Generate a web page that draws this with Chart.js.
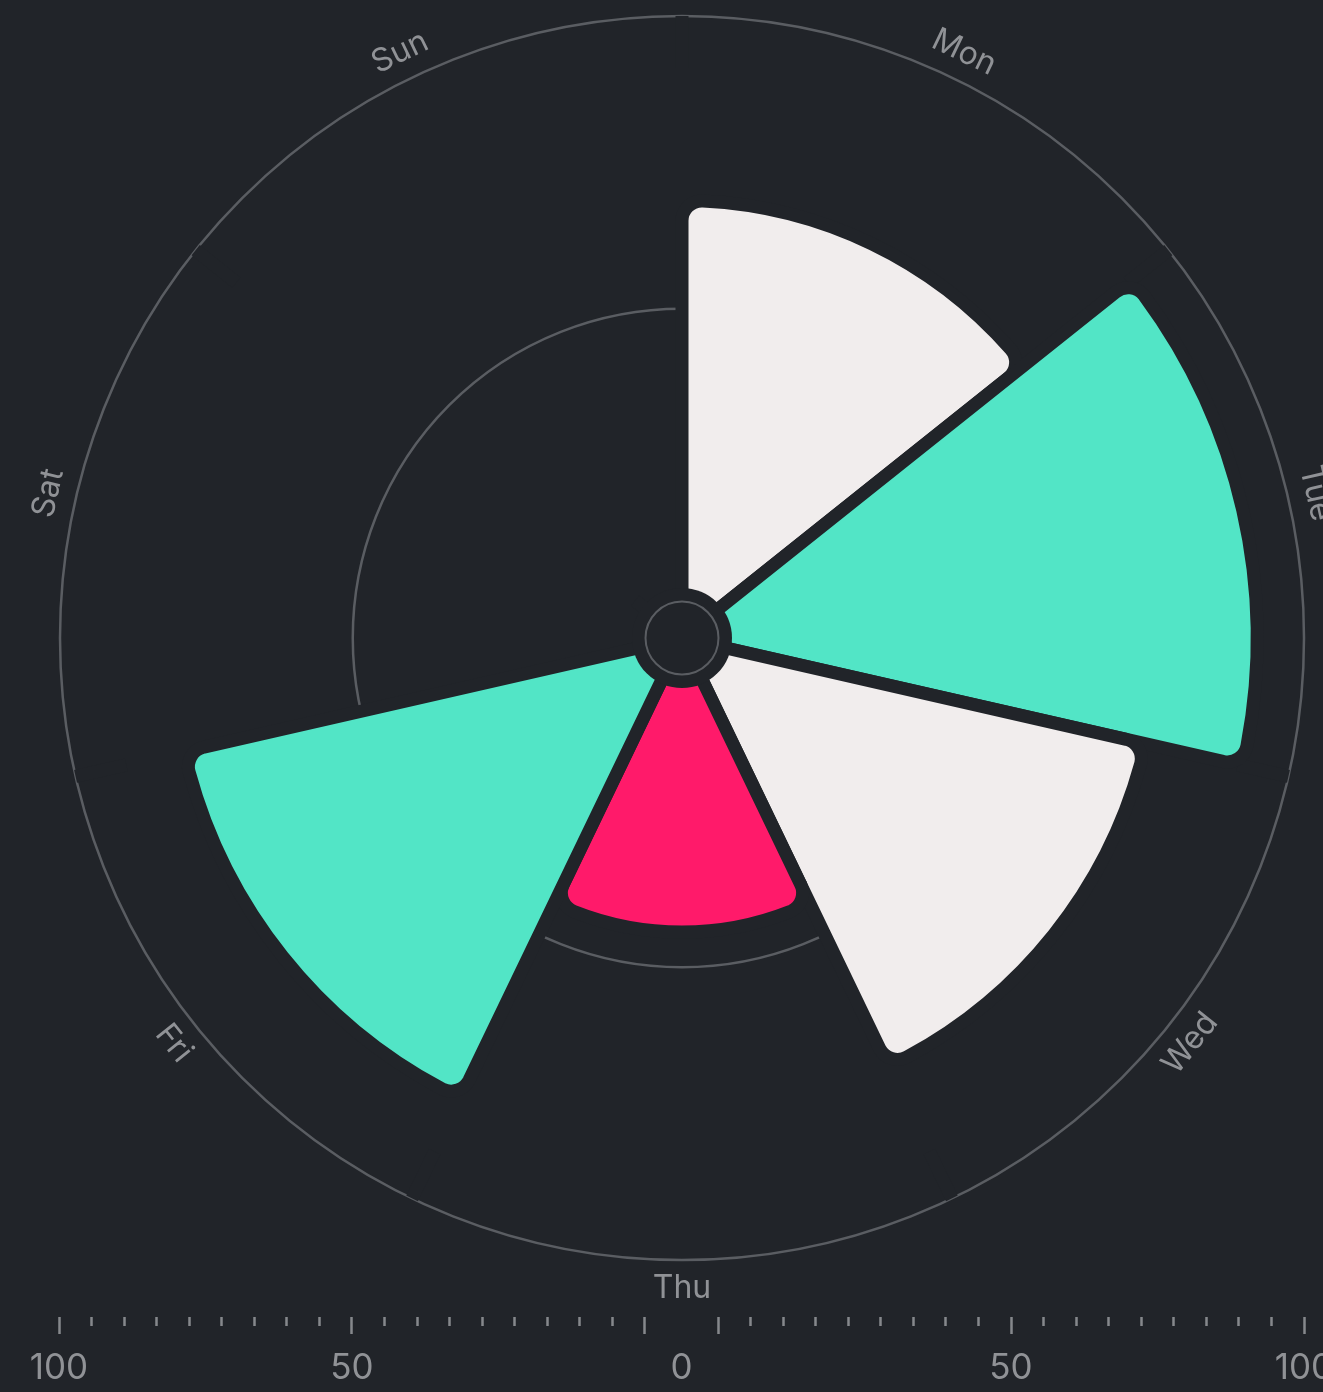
<!DOCTYPE html>
<html>
<head>
<meta charset="utf-8">
<script src="https://cdn.jsdelivr.net/npm/chart.js@4.4.1/dist/chart.umd.min.js"></script>
<style>
  html, body { margin: 0; padding: 0; background: #212429; }
  #chart { display: block; }
</style>
</head>
<body>
<canvas id="chart" width="1323" height="1392"></canvas>
<script>
// ---- data ----
const days = ['Mon', 'Tue', 'Wed', 'Thu', 'Fri', 'Sat', 'Sun'];
const values = [68.5, 92, 75, 44, 81, 0, 0];
const barColors = ['#f1eded', '#52e5c6', '#f1eded', '#ff1a6a', '#52e5c6', '#f1eded', '#f1eded'];

const ringValues = [50, 100];        // grid circles
const axisLabelValues = [50, 100];   // labelled ticks on the bottom ruler ('0' sits in the middle)
const axisStep = 50 / 9;             // ruler tick spacing
const holeValue = -6.23;             // value at the very centre, leaves a hole round 0

// ---- colours ----
const BG = '#212429';
const GRID = '#5a5d62';
const TEXT = '#909296';
const TICK = '#86888c';

// ruler ticks: mirrored both sides of the hole
const span = 100 - holeValue;
const rulerTicks = [{ value: 0 }];
for (let k = 0; k <= 18; k++) {
  const u = k * axisStep - holeValue;
  rulerTicks.push({ value: u }, { value: -u });
}
rulerTicks.sort((a, b) => a.value - b.value);

const rulerValue = (u) => Math.abs(u) + holeValue;
const isMajor = (u) => {
  const k = Math.round(rulerValue(u) / axisStep);
  return k % 9 === 0;
};

// dark hole + small ring in the middle
const centerHole = {
  id: 'centerHole',
  afterDatasetsDraw(chart) {
    const r = chart.scales.r, ctx = chart.ctx;
    ctx.save();
    ctx.fillStyle = BG;
    ctx.beginPath();
    ctx.arc(r.xCenter, r.yCenter, 50, 0, Math.PI * 2);
    ctx.fill();
    ctx.strokeStyle = GRID;
    ctx.lineWidth = 2;
    ctx.beginPath();
    ctx.arc(r.xCenter, r.yCenter, r.getDistanceFromCenterForValue(0), 0, Math.PI * 2);
    ctx.stroke();
    ctx.restore();
  }
};

// day names following the circle
const dayLabels = {
  id: 'dayLabels',
  afterDraw(chart) {
    const r = chart.scales.r, ctx = chart.ctx;
    ctx.save();
    ctx.font = '32px Inter';
    ctx.fillStyle = TEXT;
    ctx.textAlign = 'center';
    ctx.textBaseline = 'middle';
    days.forEach((d, i) => {
      const p = r.getPointPosition(i + 0.5, r.drawingArea + 28);
      let rot = p.angle + Math.PI / 2;
      if (Math.cos(rot) < -1e-6) rot -= Math.PI;
      ctx.save();
      ctx.translate(p.x, p.y);
      ctx.rotate(rot);
      ctx.fillText(d, 0, 0);
      ctx.restore();
    });
    ctx.restore();
  }
};

new Chart(document.getElementById('chart'), {
  type: 'polarArea',
  data: {
    labels: days,
    datasets: [{
      data: values,
      backgroundColor: barColors,
      borderColor: BG,
      borderWidth: 13,
      borderAlign: 'center',
      borderRadius: 20
    }]
  },
  options: {
    responsive: false,
    devicePixelRatio: 1,
    animation: false,
    layout: { padding: { left: 59, right: 19, top: 16, bottom: 0 } },
    plugins: { legend: { display: false }, tooltip: { enabled: false } },
    scales: {
      r: {
        min: holeValue,
        max: 100,
        startAngle: 0,
        afterBuildTicks: s => { s.ticks = [{ value: holeValue }].concat(ringValues.map(v => ({ value: v }))); },
        afterFit: s => {
          s.xCenter = Math.round(s.left + s.width / 2);
          s.yCenter = s.top + s.drawingArea;
        },
        ticks: { display: false },
        pointLabels: { display: false },
        grid: {
          circular: true,
          lineWidth: 2.5,
          color: c => (c.tick && c.tick.value > 0) ? GRID : 'transparent'
        },
        // background-coloured spokes cut the outer ring at each sector edge
        angleLines: { display: true, color: BG, lineWidth: 13, borderDash: [60, 510] }
      },
      x: {
        type: 'linear',
        position: 'bottom',
        min: -span,
        max: span,
        afterBuildTicks: s => { s.ticks = rulerTicks.map(t => ({ value: t.value })); },
        afterFit: s => { s.height = 75; s.paddingLeft = 0; s.paddingRight = 0; },
        border: { display: false },
        grid: {
          drawOnChartArea: false,
          drawTicks: true,
          tickLength: 17,
          tickWidth: 2.5,
          tickColor: c => Math.abs(c.tick.value) < 1e-6 ? 'transparent' : TICK,
          tickBorderDash: c => isMajor(c.tick.value) ? [] : [9, 40]
        },
        ticks: {
          autoSkip: false,
          maxRotation: 0,
          padding: 13,
          color: TEXT,
          font: { family: 'Inter', size: 35 },
          callback: (u) => {
            if (Math.abs(u) < 1e-6) return '0';
            const v = Math.round(rulerValue(u));
            return axisLabelValues.includes(v) ? String(v) : '';
          }
        }
      }
    }
  },
  plugins: [centerHole, dayLabels]
});
</script>
</body>
</html>
